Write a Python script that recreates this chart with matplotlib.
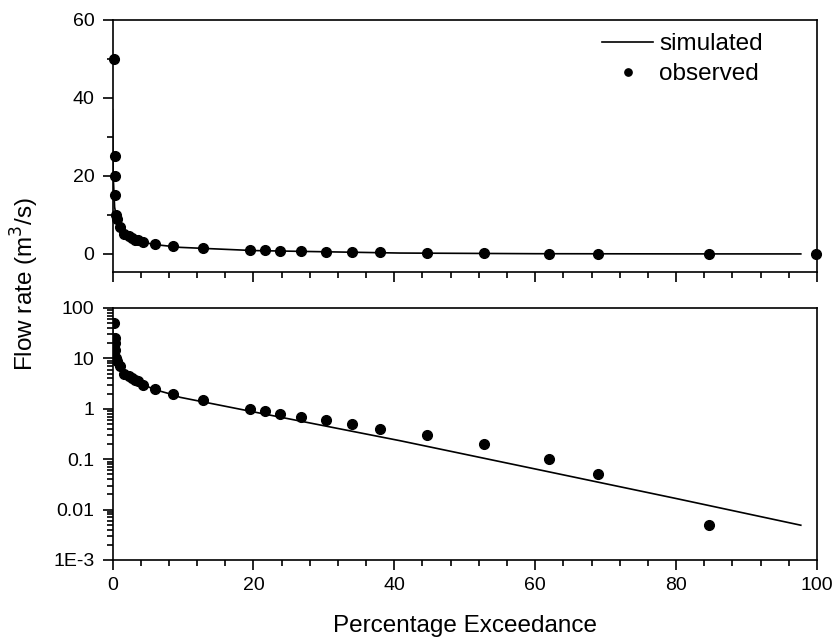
import matplotlib
matplotlib.use("Agg")
import matplotlib.pyplot as plt
from matplotlib.ticker import MultipleLocator, FixedLocator, FixedFormatter, LogLocator, NullFormatter
import numpy as np

plt.rcParams['font.family'] = ['Liberation Sans', 'DejaVu Sans']

# observed data (percentage exceedance, flow rate m3/s)
obs_x = [0.2, 0.3, 0.3, 0.3, 0.5, 0.7, 1.0, 1.7, 2.3, 2.7, 3.2, 3.6, 4.4, 6.0, 8.6,
         12.8, 19.5, 21.6, 23.8, 26.8, 30.3, 34.0, 38.0, 44.7, 52.7, 61.9, 68.9, 84.7, 99.8]
obs_y = [50, 25, 20, 15, 10, 9, 7, 5, 4.5, 4, 3.7, 3.5, 3, 2.5, 2,
         1.5, 1.0, 0.9, 0.8, 0.7, 0.6, 0.5, 0.4, 0.3, 0.2, 0.1, 0.05, 0.005, 0.0]

# simulated curve
sim_x = [0.0, 0.1, 0.3, 0.6, 1.0, 1.5, 2.0, 3.0, 4.4, 6.0, 8.6, 9.6, 20.0, 40.8, 60.0, 80.0, 97.7]
sim_y = [37, 20, 12, 9, 7, 5.5, 4.6, 3.6, 3.0, 2.4, 1.9, 1.69, 0.87, 0.233, 0.064, 0.0166, 0.0049]

log_ticks = [1e-3, 1e-2, 1e-1, 1, 10, 100]
log_labels = ['1E-3', '0.01', '0.1', '1', '10', '100']
lin_ticks = [0, 20, 40, 60]
x_ticks = [0, 20, 40, 60, 80, 100]

W, H = 835, 639
fig = plt.figure(figsize=(W / 100, H / 100), dpi=100)

left = 112.5 / W
width = (817 - 112.5) / W
ax1 = fig.add_axes([left, 1 - 271.5 / H, width, (271.5 - 20) / H])
ax2 = fig.add_axes([left, 1 - 560 / H, width, (560 - 308) / H])

lw_sp = 1.2
for ax in (ax1, ax2):
    for s in ax.spines.values():
        s.set_linewidth(lw_sp)
    ax.tick_params(which='major', direction='out', length=7, width=lw_sp, labelsize=14,
                   top=False, right=False)
    ax.tick_params(which='minor', direction='out', length=4.5, width=lw_sp,
                   top=False, right=False)
    ax.set_xlim(0, 100)
    ax.set_xticks(x_ticks)
    ax.xaxis.set_minor_locator(MultipleLocator(4))

ms = 7
ax1.plot(sim_x, sim_y, color='black', lw=1.2, label='simulated', zorder=2)
ax1.plot(obs_x, obs_y, 'o', color='black', ms=ms, label='observed', zorder=3, clip_on=False)
ax1.set_ylim(-4.5, 60)
ax1.set_yticks(lin_ticks)
ax1.yaxis.set_minor_locator(FixedLocator([10, 30, 50]))
ax1.tick_params(axis='x', labelbottom=False)
ax1.tick_params(axis='y', pad=6)

leg = ax1.legend(loc='upper left', bbox_to_anchor=((589 - 112.5) / 705, 1.0),
                 frameon=False, fontsize=17.5, handlelength=2.1, handletextpad=0.25,
                 markerscale=0.75, borderpad=0.55, labelspacing=0.32, borderaxespad=0)

ox = np.array(obs_x)
oy = np.array(obs_y)
m = oy > 0
ax2.plot(sim_x, sim_y, color='black', lw=1.2, zorder=2)
ax2.plot(ox[m], oy[m], 'o', color='black', ms=ms, zorder=3)
ax2.set_yscale('log')
ax2.set_ylim(1e-3, 100)
ax2.yaxis.set_major_locator(FixedLocator(log_ticks))
ax2.yaxis.set_major_formatter(FixedFormatter(log_labels))
ax2.yaxis.set_minor_locator(LogLocator(base=10, subs=np.arange(2, 10)))
ax2.yaxis.set_minor_formatter(NullFormatter())
ax2.tick_params(axis='y', which='minor', length=4)
ax2.tick_params(axis='y', pad=6)
ax2.tick_params(axis='x', pad=5)

fig.text(25 / W, 1 - 284 / H, 'Flow rate (m$^3$/s)', rotation=90, ha='center', va='center',
         fontsize=17.5)
fig.text((112.5 + 817) / 2 / W, 1 - 626 / H, 'Percentage Exceedance', ha='center', va='center',
         fontsize=17.5)

fig.savefig('out.png', dpi=100)
